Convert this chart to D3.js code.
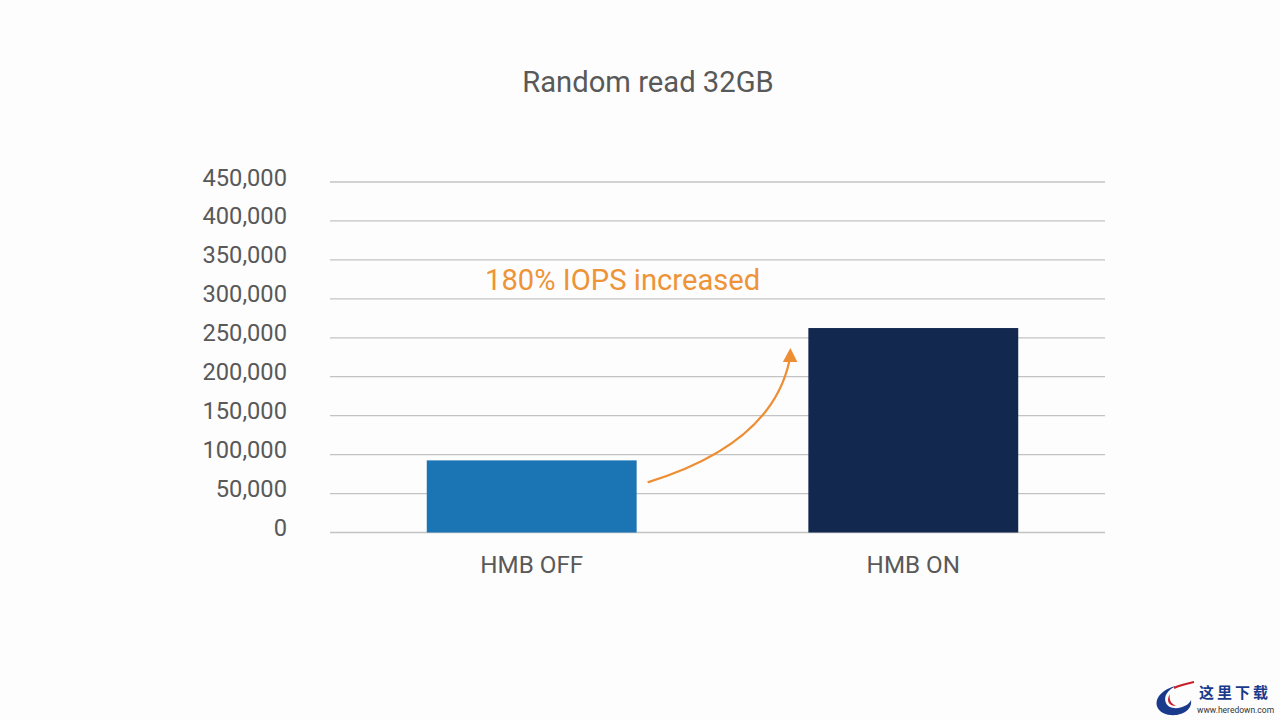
<!DOCTYPE html>
<html><head><meta charset="utf-8">
<script src="https://cdn.jsdelivr.net/npm/d3@7"></script>
<style>
html,body{margin:0;padding:0;background:#fdfdfd;}
svg{display:block;font-family:Roboto,"Noto Sans",sans-serif;}
</style></head>
<body>
<svg id="c" width="1280" height="720"></svg>
<script>
const categories = ["HMB OFF", "HMB ON"];
const values = [92600, 262500];
const yTicks = [0, 50000, 100000, 150000, 200000, 250000, 300000, 350000, 400000, 450000];
const title = "Random read 32GB";
const annotation = "180% IOPS increased";
const barColors = ["#1b75b4", "#13284f"];

(function(){
const svg = d3.select("#c");
const pLeft = 330, pRight = 1105, pTop = 182, pBottom = 532.5;

const y = d3.scaleLinear().domain([0, 450000]).range([pBottom, pTop]);
const x = d3.scaleBand().domain(categories).range([339, 1106]).paddingInner(0.45).paddingOuter(0.23);

svg.append("rect").attr("width",1280).attr("height",720).attr("fill","#fdfdfd");

// title
svg.append("text").attr("x", 648).attr("y", 92).attr("text-anchor","middle")
  .attr("font-size", 29.2).attr("fill","#595959").text(title);

// gridlines
svg.append("g").selectAll("line").data(yTicks).join("line")
  .attr("x1", pLeft).attr("x2", pRight)
  .attr("y1", d => y(d)).attr("y2", d => y(d))
  .attr("stroke", "#c3c3c3").attr("stroke-width", 1.3);

// y axis labels
const yAxis = d3.axisLeft(y).tickValues(yTicks).tickFormat(d3.format(",")).tickSize(0).tickPadding(0);
const ga = svg.append("g").attr("transform", "translate(287,0)").call(yAxis);
ga.select(".domain").remove();
ga.selectAll("text").attr("font-size", 23.7).attr("fill", "#595959")
  .attr("font-family", "Roboto, sans-serif").attr("dy", "0.0em").attr("y", 3);

// bars
svg.append("g").selectAll("rect").data(values).join("rect")
  .attr("x", (d,i) => x(categories[i]))
  .attr("width", x.bandwidth())
  .attr("y", d => y(d))
  .attr("height", d => y(0) - y(d))
  .attr("fill", (d,i) => barColors[i]);

// x labels
const xAxis = d3.axisBottom(x).tickSize(0).tickPadding(0);
const gx = svg.append("g").attr("transform", "translate(0,573)").call(xAxis);
gx.select(".domain").remove();
gx.selectAll("text").attr("font-size", 24.2).attr("fill", "#595959")
  .attr("font-family", "Roboto, sans-serif").attr("dy", 0).attr("y", 0);

// annotation
svg.append("text").attr("x", 485).attr("y", 290).attr("font-size", 29.2)
  .attr("fill", "#ee9438").text(annotation);

// arrow
const x0 = x(categories[0]) + x.bandwidth() + 11;
const y0 = y(values[0]) + 22;
const x1 = x(categories[1]) - 19;
const y1 = y(values[1]) + 33;
svg.append("path")
  .attr("d", `M${x0},${y0} Q${x1-18},${y0-38} ${x1},${y1}`)
  .attr("fill", "none").attr("stroke", "#ee8e34").attr("stroke-width", 2.2);
svg.append("path")
  .attr("d", `M${x1+1},${y1-13} L${x1-6.5},${y1+1} L${x1+8},${y1+1} Z`)
  .attr("fill", "#ee8e34");

// watermark
const wm = svg.append("g");
wm.append("path").attr("d","M1176,686 C1158,690 1150,705 1163,713 C1176,719 1193,712 1191,700 C1188,708 1170,712 1166,703 C1163,696 1168,690 1176,686 Z")
  .attr("fill","#1a3a8c");
wm.append("path").attr("d","M1170,694 C1166,700 1168,706 1176,706 C1170,703 1169,699 1170,694 Z").attr("fill","#c8202a");
wm.append("path").attr("d","M1174,688 C1182,684 1190,683 1194,682").attr("stroke","#c8202a").attr("stroke-width",2).attr("fill","none");
wm.append("text").attr("x",1199).attr("y",698).attr("font-size",15).attr("font-family","'Noto Sans CJK SC'")
  .attr("fill","#1a3a8c").attr("font-weight","bold").attr("letter-spacing",3).text("这里下载");
wm.append("text").attr("x",1197).attr("y",713).attr("font-size",8.5).attr("fill","#333").text("www.heredown.com");
})();
</script>
</body></html>
